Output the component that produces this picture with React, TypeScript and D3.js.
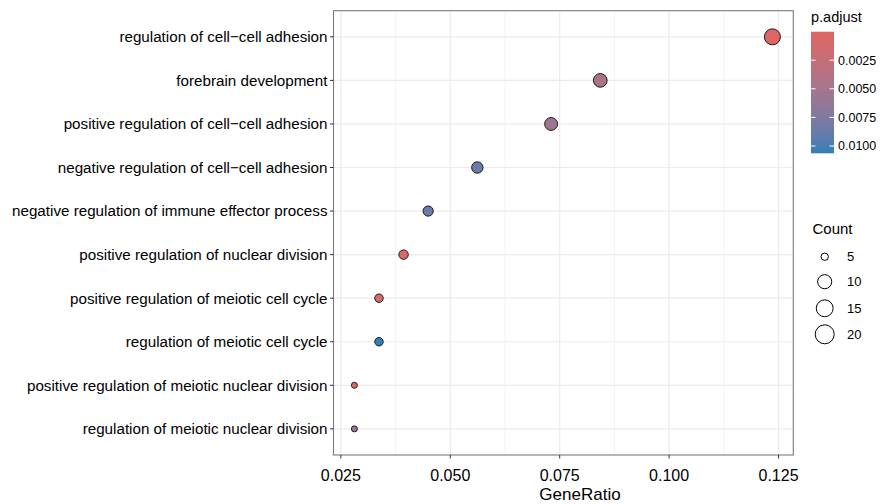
import React from "react";
import * as d3 from "d3";

const categories = [
  "regulation of cell\u2212cell adhesion",
  "forebrain development",
  "positive regulation of cell\u2212cell adhesion",
  "negative regulation of cell\u2212cell adhesion",
  "negative regulation of immune effector process",
  "positive regulation of nuclear division",
  "positive regulation of meiotic cell cycle",
  "regulation of meiotic cell cycle",
  "positive regulation of meiotic nuclear division",
  "regulation of meiotic nuclear division",
];
const counts = [22, 15, 13, 10, 8, 7, 6, 6, 5, 5];
const totalGenes = 178;
const geneRatio = counts.map((c) => c / totalGenes);
const pAdjust = [0.00001, 0.0045, 0.0056, 0.0086, 0.0087, 0.0009, 0.0007, 0.01064, 0.0006, 0.006];
const xTicks = [0.025, 0.05, 0.075, 0.1, 0.125];
const xMinor = [0.0375, 0.0625, 0.0875, 0.1125];
const colorTicks = [0.0025, 0.005, 0.0075, 0.01];
const sizeBreaks = [5, 10, 15, 20];

const W = 893;
const H = 504;
const panel = { left: 333.5, right: 793.3, top: 10.7, bottom: 455 };
const FONT = "'Liberation Sans', Arial, sans-serif";
const LOW = "#e06663";
const HIGH = "#327eba";

export default function App() {
  const xMin = d3.min(geneRatio)!;
  const xMax = d3.max(geneRatio)!;
  const xpad = (xMax - xMin) * 0.05;
  const x = d3.scaleLinear().domain([xMin - xpad, xMax + xpad]).range([panel.left, panel.right]);
  const y = d3.scalePoint<string>().domain(categories).range([panel.top, panel.bottom]).padding(0.6);
  const pMin = d3.min(pAdjust)!;
  const pMax = d3.max(pAdjust)!;
  const color = d3.scaleLinear<string>().domain([pMin, pMax]).range([LOW, HIGH]).interpolate(d3.interpolateLab);
  const cMin = d3.min(counts)!;
  const cMax = d3.max(counts)!;
  const rScale = (c: number) => 3 + 5 * Math.sqrt((c - cMin) / (cMax - cMin));
  const legendR = (c: number) => 3.7 + 5.8 * Math.sqrt((c - 5) / 15);

  const bar = { x: 811, w: 23, top: 31.7, bottom: 153.3 };
  const cy = d3.scaleLinear().domain([pMin, pMax]).range([bar.top, bar.bottom]);
  const stops = d3.range(0, 1.0001, 0.05);

  const legendY = d3.scaleOrdinal<number, number>().domain(sizeBreaks).range([256.7, 281.7, 308.3, 334.3]);

  return (
    <svg width={W} height={H} style={{ position: "absolute", left: 0, top: 0, background: "#fff" }} fontFamily={FONT}>
      <defs>
        <linearGradient id="pgrad" x1="0" y1="0" x2="0" y2="1">
          {stops.map((s) => (
            <stop key={s} offset={`${s * 100}%`} stopColor={color(pMin + s * (pMax - pMin))} />
          ))}
        </linearGradient>
      </defs>
      <rect x={panel.left} y={panel.top} width={panel.right - panel.left} height={panel.bottom - panel.top} fill="#fff" />
      {xMinor.map((v) => (
        <line key={"mi" + v} x1={x(v)} x2={x(v)} y1={panel.top} y2={panel.bottom} stroke="#ebebeb" strokeWidth={0.6} />
      ))}
      {xTicks.map((v) => (
        <line key={"ma" + v} x1={x(v)} x2={x(v)} y1={panel.top} y2={panel.bottom} stroke="#ebebeb" strokeWidth={1.2} />
      ))}
      {categories.map((c) => (
        <line key={"h" + c} x1={panel.left} x2={panel.right} y1={y(c)!} y2={y(c)!} stroke="#ebebeb" strokeWidth={1.2} />
      ))}
      {categories.map((c, i) => (
        <circle
          key={"p" + c}
          cx={x(geneRatio[i])}
          cy={y(c)!}
          r={rScale(counts[i])}
          fill={color(pAdjust[i])}
          stroke="#1a1a1a"
          strokeWidth={1}
        />
      ))}
      <rect
        x={panel.left}
        y={panel.top}
        width={panel.right - panel.left}
        height={panel.bottom - panel.top}
        fill="none"
        stroke="#7a7a7a"
        strokeWidth={1.1}
      />
      {categories.map((c) => (
        <g key={"yl" + c}>
          <line x1={panel.left - 3.5} x2={panel.left} y1={y(c)!} y2={y(c)!} stroke="#333" strokeWidth={1} />
          <text x={panel.left - 6} y={y(c)!} dy="0.35em" textAnchor="end" fontSize={15.2} fill="#000">
            {c}
          </text>
        </g>
      ))}
      {xTicks.map((v) => (
        <g key={"xl" + v}>
          <line x1={x(v)} x2={x(v)} y1={panel.bottom} y2={panel.bottom + 3.5} stroke="#333" strokeWidth={1} />
          <text x={x(v)} y={480.5} textAnchor="middle" fontSize={16} fill="#000">
            {d3.format(".3f")(v)}
          </text>
        </g>
      ))}
      <text x={580} y={500} textAnchor="middle" fontSize={17} fill="#000">
        GeneRatio
      </text>

      <text x={811} y={22} fontSize={14.5} fill="#000">
        p.adjust
      </text>
      <rect x={bar.x} y={bar.top} width={bar.w} height={bar.bottom - bar.top} fill="url(#pgrad)" />
      {colorTicks.map((t) => (
        <g key={"ct" + t}>
          <line x1={bar.x} x2={bar.x + 4.5} y1={cy(t)} y2={cy(t)} stroke="#fff" strokeWidth={1} />
          <line x1={bar.x + bar.w - 4.5} x2={bar.x + bar.w} y1={cy(t)} y2={cy(t)} stroke="#fff" strokeWidth={1} />
          <text x={838} y={cy(t)} dy="0.35em" fontSize={12.5} fill="#000">
            {d3.format(".4f")(t)}
          </text>
        </g>
      ))}

      <text x={812.5} y={234} fontSize={15} fill="#000">
        Count
      </text>
      {sizeBreaks.map((s) => (
        <g key={"sb" + s}>
          <circle cx={824.7} cy={legendY(s)} r={legendR(s)} fill="none" stroke="#000" strokeWidth={1} />
          <text x={847} y={legendY(s)} dy="0.35em" fontSize={13} fill="#000">
            {s}
          </text>
        </g>
      ))}
    </svg>
  );
}
